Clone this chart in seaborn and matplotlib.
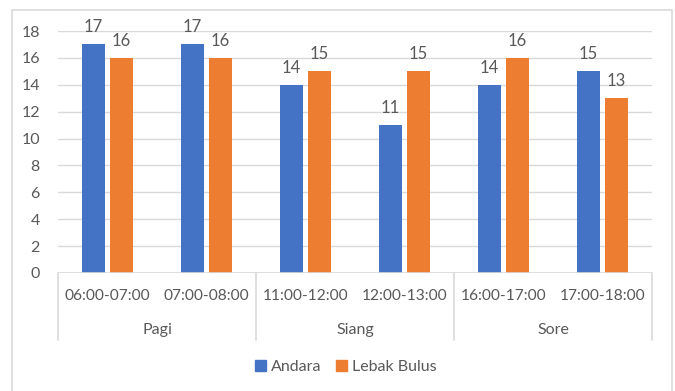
import matplotlib
matplotlib.use("Agg")
import matplotlib.pyplot as plt
from matplotlib.patches import Rectangle
from matplotlib.lines import Line2D
import seaborn as sns
import pandas as pd

# Time slots, their period of day, and counts for each location
slots = ["06:00-07:00", "07:00-08:00", "11:00-12:00", "12:00-13:00", "16:00-17:00", "17:00-18:00"]
periods = ["Pagi", "Siang", "Sore"]
andara = [17, 17, 14, 11, 14, 15]
lebak_bulus = [16, 16, 15, 15, 16, 13]
series = ["Andara", "Lebak Bulus"]
colors = ["#4472C4", "#ED7D31"]
yticks = list(range(0, 20, 2))

df = pd.DataFrame({
    "slot": slots * 2,
    "value": andara + lebak_bulus,
    "series": [series[0]] * len(slots) + [series[1]] * len(slots),
})

sns.set_theme(style="white")
plt.rcParams["font.family"] = ["Lato", "DejaVu Sans"]
text_color = "#595959"
grid_color = "#D9D9D9"

W, H = 675, 391
fig = plt.figure(figsize=(W / 100, H / 100), dpi=100)
fig.patch.set_facecolor("white")

def fx(px):
    return px / W

def fy(py):
    return 1 - py / H

left, right, top, bottom = 58, 652, 31, 273
ax = fig.add_axes([fx(left), fy(bottom), fx(right - left), fy(top) - fy(bottom)])

sns.barplot(data=df, x="slot", y="value", hue="series", order=slots,
            hue_order=series, palette=colors, width=0.566, gap=0.21,
            saturation=1, ax=ax, legend=False, linewidth=0)

for cont in ax.containers:
    ax.bar_label(cont, padding=6.5, fontsize=12, color=text_color)

ax.set_ylim(0, 18)
ax.set_xlim(-0.5, len(slots) - 0.5)
ax.set_yticks(yticks)
ax.yaxis.grid(True, color=grid_color, linewidth=1)
ax.set_axisbelow(True)
for s in ax.spines.values():
    s.set_visible(False)
ax.tick_params(axis="y", length=0, pad=13, labelsize=11.5, labelcolor=text_color)
ax.set_xticks([])
ax.set_xlabel("")
ax.set_ylabel("")
ax.set_xticklabels([])

# Category axis: baseline, group dividers, slot and period labels
ax.axhline(0, color=grid_color, linewidth=1.2, zorder=3)
trans = ax.get_xaxis_transform()
div_bottom = (273 - 340) / (bottom - top)  # axes fraction below the baseline
for xpos in [-0.5, 1.5, 3.5, 5.5]:
    ax.add_line(Line2D([xpos, xpos], [0, div_bottom], transform=trans,
                       color=grid_color, linewidth=1.2, clip_on=False))
slot_y = (273 - 296) / (bottom - top)
for i, s in enumerate(slots):
    ax.text(i, slot_y, s, transform=trans, ha="center", va="center",
            fontsize=11.2, color=text_color)
period_y = (273 - 330) / (bottom - top)
for j, p in enumerate(periods):
    ax.text(2 * j + 0.5, period_y, p, transform=trans, ha="center", va="center",
            fontsize=11.5, color=text_color)

# Legend
handles = [Rectangle((0, 0), 1, 1, color=c) for c in colors]
fig.legend(handles, series, loc="center", bbox_to_anchor=(fx(346), fy(367)),
           ncol=2, frameon=False, fontsize=11.5, labelcolor=text_color,
           handlelength=0.7, handleheight=0.7, handletextpad=0.3,
           columnspacing=0.9)

# Chart frame
fig.patches.append(Rectangle((fx(12), fy(420)), fx(672 - 12), fy(10) - fy(420),
                             transform=fig.transFigure, fill=False,
                             edgecolor=grid_color, linewidth=1.2))

fig.savefig("out.png", dpi=100)
